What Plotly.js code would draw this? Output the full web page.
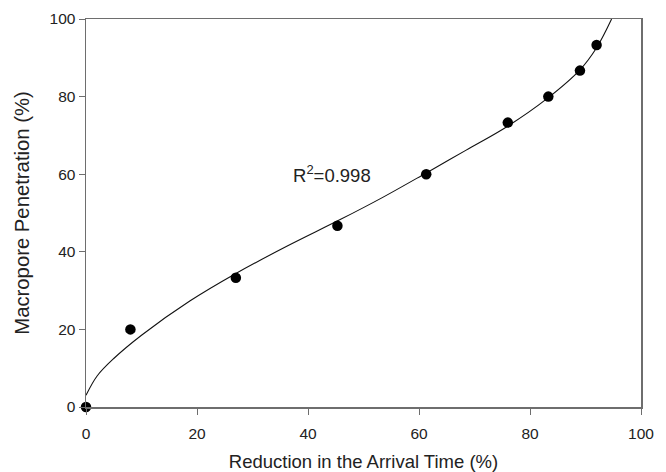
<!DOCTYPE html>
<html>
<head>
<meta charset="utf-8">
<script src="https://cdn.plot.ly/plotly-3.0.1.min.js"></script>
<style>html,body{margin:0;padding:0;background:#fff;}#chart{width:666px;height:472px;}</style>
</head>
<body>
<div id="chart"></div>
<script>
// Observed data points
const obsX = [0, 8, 27, 45.3, 61.3, 76, 83.3, 89, 92];
const obsY = [0, 20, 33.3, 46.7, 60, 73.3, 80, 86.7, 93.3];

// Fitted curve
const fitX = [0, 2, 5, 10, 18.7, 27, 36, 45.8, 53.3, 61.4, 68.5, 75.9, 83, 89, 92, 94.7];
const fitY = [3, 8, 12.5, 18.5, 27.3, 34.4, 41.3, 48.3, 53.9, 60.4, 66.2, 72.3, 79.4, 86.9, 92.6, 100];

const xTicks = [0, 20, 40, 60, 80, 100];
const yTicks = [0, 20, 40, 60, 80, 100];

const annText = 'R<sup>2</sup>=0.998';

const FONT = 'Liberation Sans, Arial, sans-serif';

const axisCommon = {
  showline: true, mirror: true, linecolor: '#6e6e6e', linewidth: 1.5,
  ticks: 'outside', ticklen: 6, tickwidth: 1, tickcolor: '#6e6e6e',
  showgrid: false, zeroline: false,
  tickfont: {family: FONT, size: 15.5, color: '#222'}
};

const data = [
  {x: fitX, y: fitY, mode: 'lines', type: 'scatter', line: {color: '#111', width: 1.1, shape: 'spline', smoothing: 1}, hoverinfo: 'skip', cliponaxis: true},
  {x: obsX, y: obsY, mode: 'markers', type: 'scatter', marker: {color: '#000', size: 10.5}, cliponaxis: false}
];

const layout = {
  width: 666, height: 472,
  margin: {l: 86, r: 25, t: 19, b: 65},
  paper_bgcolor: '#fff', plot_bgcolor: '#fff',
  showlegend: false,
  xaxis: Object.assign({}, axisCommon, {
    range: [0, 100], tickvals: xTicks, ticktext: xTicks.map(String),
    ticklabelstandoff: 6,
    title: {text: 'Reduction in the Arrival Time (%)', font: {family: FONT, size: 18.5, color: '#222'}, standoff: 16}
  }),
  yaxis: Object.assign({}, axisCommon, {
    range: [0, 100], tickvals: yTicks, ticktext: yTicks.map(String),
    title: {text: 'Macropore Penetration (%)', font: {family: FONT, size: 20.3, color: '#222'}, standoff: 14}
  }),
  annotations: [{
    x: 44.4, y: 60, xref: 'x', yref: 'y', text: annText, showarrow: false,
    font: {family: FONT, size: 18.5, color: '#222'}
  }]
};

Plotly.newPlot('chart', data, layout, {displayModeBar: false, staticPlot: true});
</script>
</body>
</html>
